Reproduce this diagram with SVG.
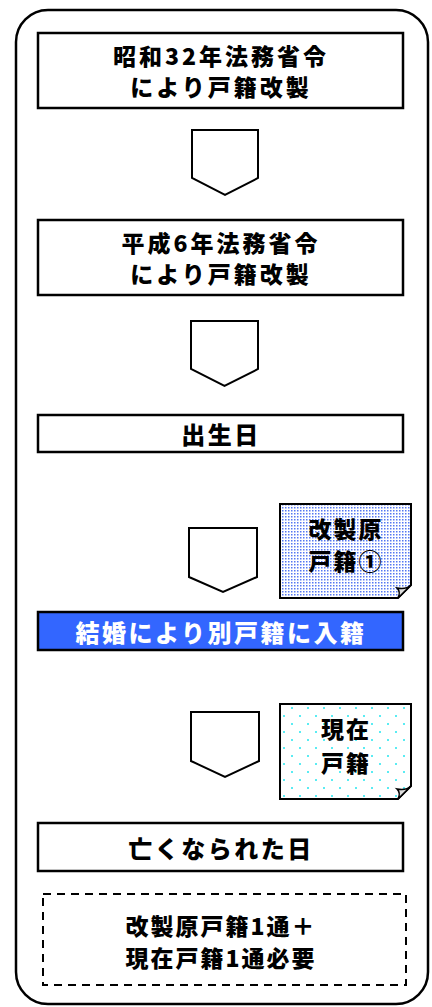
<svg xmlns="http://www.w3.org/2000/svg" width="432" height="1007" viewBox="0 0 432 1007">
<style>
.box{fill:#fff;stroke:#000;stroke-width:2.5}
.arr{fill:#fff;stroke:#000;stroke-width:2}
.t{font-family:"Noto Sans CJK JP","Noto Sans CJK SC",sans-serif;font-weight:900;font-size:24px;text-anchor:middle;dominant-baseline:central;letter-spacing:2.5px;fill:#000}
.m{font-size:23px;letter-spacing:3px}
.s{font-size:23px;letter-spacing:2px}
.w{fill:#fff}
.doc{stroke:#000;stroke-width:2}
</style>
<defs>
<pattern id="pBlue" width="3" height="3" patternUnits="userSpaceOnUse">
<rect width="3" height="3" fill="#fff"/>
<rect x="0" y="0" width="1.5" height="1.5" fill="#5577f2"/>
</pattern>
<pattern id="pCyan" width="16" height="16" patternUnits="userSpaceOnUse">
<rect width="16" height="16" fill="#fff"/>
<circle cx="4" cy="4" r="1" fill="#22e6f0"/>
<circle cx="12" cy="12" r="1" fill="#22e6f0"/>
</pattern>
</defs>
<rect x="16" y="10" width="412" height="994" rx="32" ry="32" fill="#fff" stroke="#000" stroke-width="2.5"/>
<g id="connectors">
<path class="arr" d="M192,130 H258 V178 L225,195 L192,178 Z"/>
<path class="arr" d="M191,321 H258 V369 L224.5,386 L191,369 Z"/>
<path class="arr" d="M189,528 H257 V577 L223,592 L189,577 Z"/>
<path class="arr" d="M191,712 H259 V761 L225,777 L191,761 Z"/>
</g>
<g id="n1">
<rect class="box" x="38" y="33" width="365" height="75"/>
<text class="t m" x="221" y="55">昭和32年法務省令</text>
<text class="t m" x="221" y="86">により戸籍改製</text>
</g>
<g id="n2">
<rect class="box" x="38" y="220" width="365" height="75"/>
<text class="t m" x="221" y="242">平成6年法務省令</text>
<text class="t m" x="221" y="273">により戸籍改製</text>
</g>
<g id="n3">
<rect class="box" x="38" y="415" width="365" height="37"/>
<text class="t" x="221" y="433.5">出生日</text>
</g>
<g id="doc1">
<path class="doc" d="M280,504 H411 V585 L398,598 H280 Z" fill="url(#pBlue)"/>
<path d="M411,585 L398,598 C400,594 399,590 397,588 C402,589 407,589 411,585 Z" fill="#ddd" stroke="#000" stroke-width="1.5"/>
<text class="t s" x="346" y="528">改製原</text>
<text class="t s" x="346" y="560">戸籍①</text>
</g>
<g id="n4">
<rect class="box" x="38" y="612" width="365" height="38" style="fill:#3366ff"/>
<text class="t w" x="221" y="631">結婚により別戸籍に入籍</text>
</g>
<g id="doc2">
<path class="doc" d="M280,704 H411 V786 L398,799 H280 Z" fill="url(#pCyan)"/>
<path d="M411,786 L398,799 C400,795 399,791 397,789 C402,790 407,790 411,786 Z" fill="#ddd" stroke="#000" stroke-width="1.5"/>
<text class="t s" x="346" y="728">現在</text>
<text class="t s" x="346" y="762">戸籍</text>
</g>
<g id="n5">
<rect class="box" x="38" y="823" width="365" height="48"/>
<text class="t" x="221" y="847">亡くなられた日</text>
</g>
<g id="n6">
<rect x="43" y="894" width="363" height="91" fill="#fff" stroke="#000" stroke-width="2" stroke-dasharray="8,6"/>
<text class="t s" x="221" y="925">改製原戸籍1通＋</text>
<text class="t s" x="221" y="957">現在戸籍1通必要</text>
</g>
</svg>
